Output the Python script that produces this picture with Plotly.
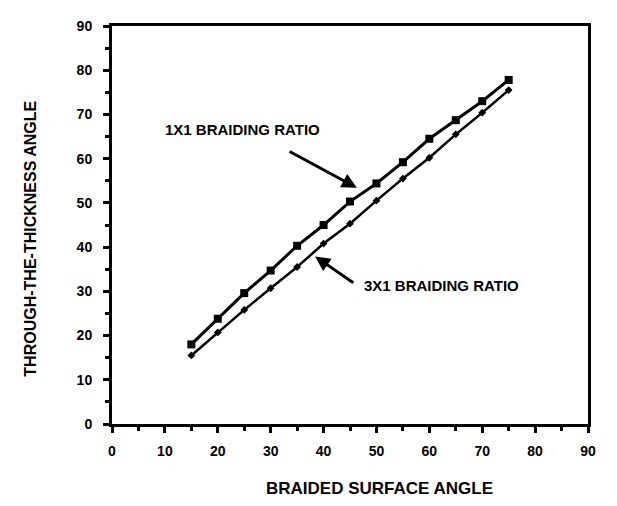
import plotly.graph_objects as go

surface_angle = [15, 20, 25, 30, 35, 40, 45, 50, 55, 60, 65, 70, 75]
ratio_1x1 = [18, 23.8, 29.6, 34.7, 40.3, 45, 50.3, 54.4, 59.2, 64.5, 68.7, 73, 77.8]
ratio_3x1 = [15.5, 20.7, 25.8, 30.7, 35.5, 40.8, 45.3, 50.5, 55.5, 60.2, 65.5, 70.4, 75.5]

FAM = 'Liberation Sans'

def bold(size):
    return dict(family=FAM, size=size, color='black', weight='bold')

fig = go.Figure()
fig.add_trace(go.Scatter(x=surface_angle, y=ratio_1x1, mode='lines+markers',
                         line=dict(color='black', width=3),
                         marker=dict(symbol='square', size=8, color='black')))
fig.add_trace(go.Scatter(x=surface_angle, y=ratio_3x1, mode='lines+markers',
                         line=dict(color='black', width=2.5),
                         marker=dict(symbol='diamond', size=6, color='black')))

axis_common = dict(range=[0, 90], dtick=10, showline=True, linewidth=3, linecolor='black',
                   mirror=True, ticks='outside', ticklen=6, tickwidth=3, tickcolor='black',
                   showgrid=False, zeroline=False, tickfont=bold(14),
                   minor=dict(dtick=5, ticks='outside', ticklen=4, tickwidth=2.5, tickcolor='black'))
fig.update_xaxes(**axis_common, ticklabelstandoff=6)
fig.update_yaxes(**axis_common, ticklabelstandoff=8)

fig.add_annotation(x=24.6, y=66.7, text='1X1 BRAIDING RATIO', showarrow=False, font=bold(15))
fig.add_annotation(x=46.3, y=53.4, ax=33.3, ay=61.8, axref='x', ayref='y', text='',
                   showarrow=True, arrowhead=2, arrowsize=1, arrowwidth=3, arrowcolor='black')
fig.add_annotation(x=47.3, y=31.3, text='3X1 BRAIDING RATIO', showarrow=False, xanchor='left',
                   font=bold(15))
fig.add_annotation(x=38.4, y=37.9, ax=45.9, ay=31.7, axref='x', ayref='y', text='',
                   showarrow=True, arrowhead=2, arrowsize=1, arrowwidth=3, arrowcolor='black')

fig.add_annotation(xref='paper', yref='paper', x=0.563, y=-0.163, xanchor='center', yanchor='middle',
                   text='BRAIDED SURFACE ANGLE', showarrow=False, font=bold(17))
fig.add_annotation(xref='paper', yref='paper', x=-0.172, y=0.466, xanchor='center', yanchor='middle',
                   textangle=-90, text='THROUGH-THE-THICKNESS ANGLE', showarrow=False, font=bold(16))

fig.update_layout(width=617, height=506, showlegend=False,
                  plot_bgcolor='white', paper_bgcolor='white',
                  margin=dict(l=104, r=37, t=10, b=90))
fig.write_html("out.html")
